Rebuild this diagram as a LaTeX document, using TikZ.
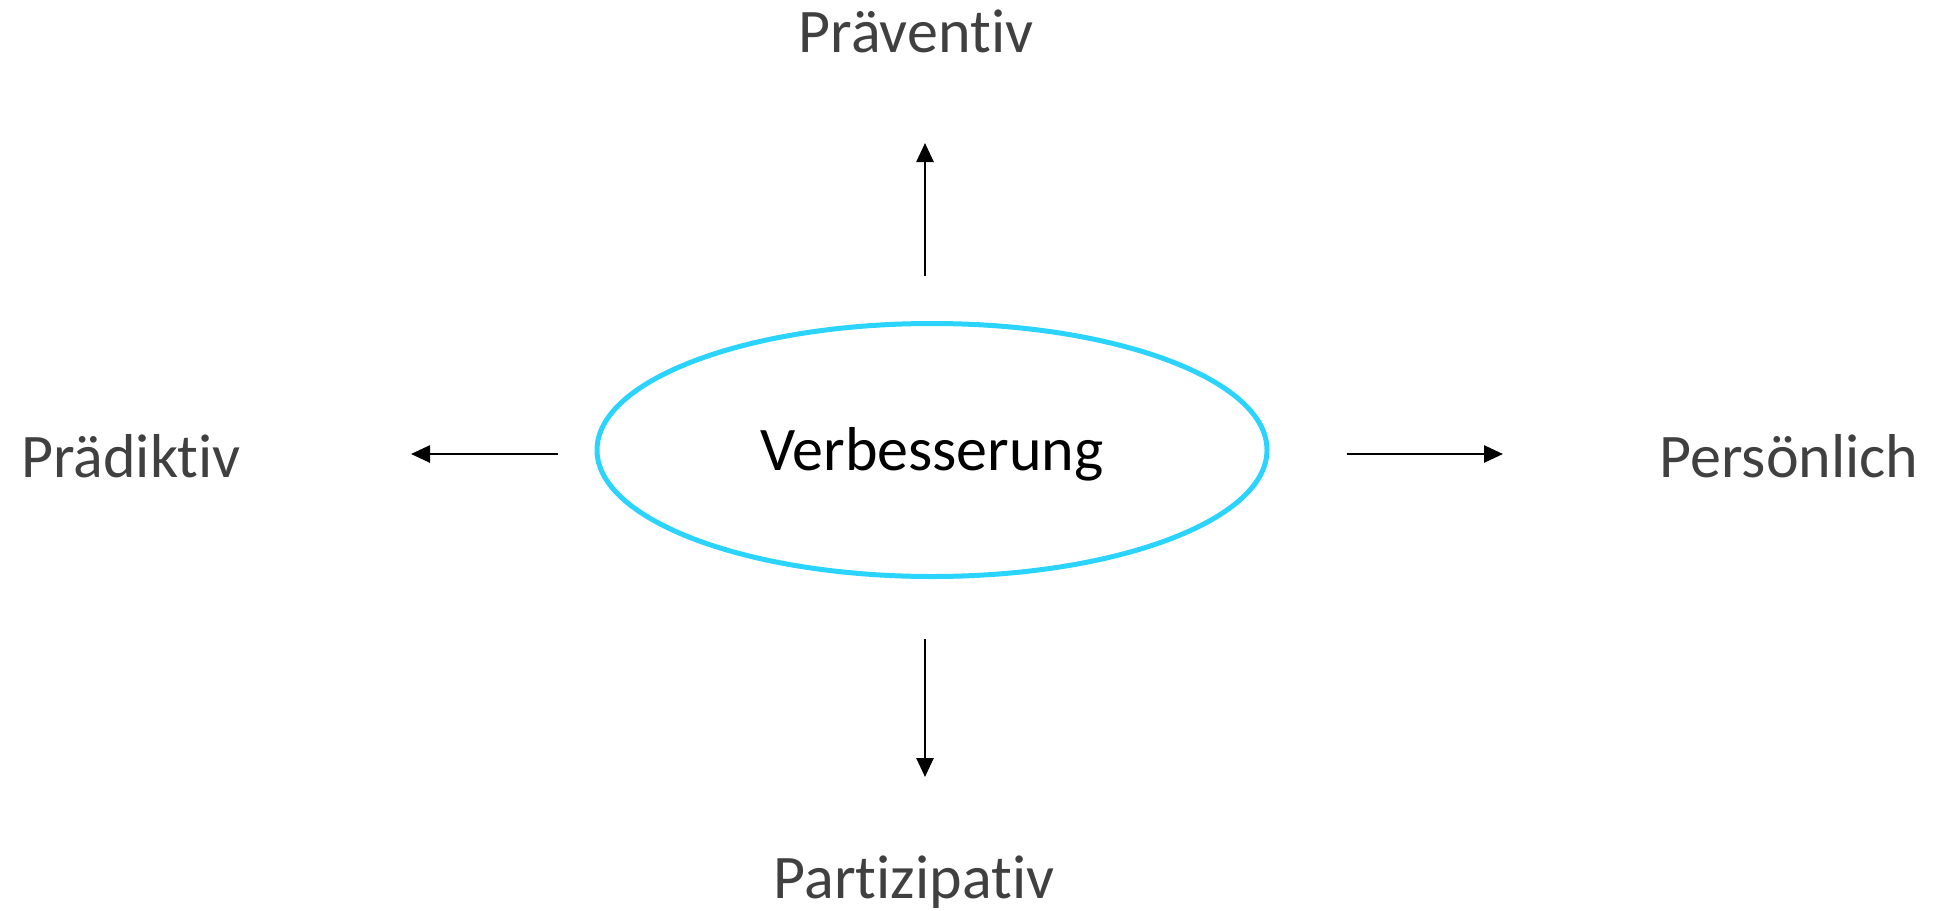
\documentclass[tikz,border=0pt]{standalone}
\usepackage{fontspec}
\setmainfont{Carlito}[Ligatures={NoCommon}]
\usetikzlibrary{shapes.geometric,arrows.meta}
\definecolor{ringcyan}{RGB}{43,212,255}
\definecolor{labelgray}{RGB}{64,64,64}
\begin{document}
\begin{tikzpicture}[x=1bp,y=-1bp,
  lbl/.style={font=\fontsize{62bp}{70bp}\selectfont, text=labelgray, anchor=base, inner sep=0pt},
  arr/.style={line width=2.6bp, -{Triangle[length=19bp,width=17bp]}},
  hub/.style={ellipse, draw=ringcyan, line width=5bp, minimum width=670bp, minimum height=253bp,
    inner sep=0pt, font=\fontsize{62bp}{70bp}\selectfont, text=black, text height=40bp, text depth=0bp}]
\useasboundingbox (0,0) rectangle (1941,911);
\node[hub] (c) at (932,450) {Verbesserung};
\node[lbl] (top) at (916,52) {Präventiv};
\node[lbl] (left) at (131,477) {Prädiktiv};
\node[lbl] (right) at (1789,477) {Persönlich};
\node[lbl] (bottom) at (914,898) {Partizipativ};
\coordinate (upS) at (925,276); \coordinate (upE) at (925,143);
\coordinate (lfS) at (558,454); \coordinate (lfE) at (411,454);
\coordinate (rtS) at (1347,454); \coordinate (rtE) at (1503,454);
\coordinate (dnS) at (925,639); \coordinate (dnE) at (925,777);
\draw[arr] (upS) -- (upE);
\draw[arr] (lfS) -- (lfE);
\draw[arr] (rtS) -- (rtE);
\draw[arr] (dnS) -- (dnE);
\end{tikzpicture}
\end{document}
